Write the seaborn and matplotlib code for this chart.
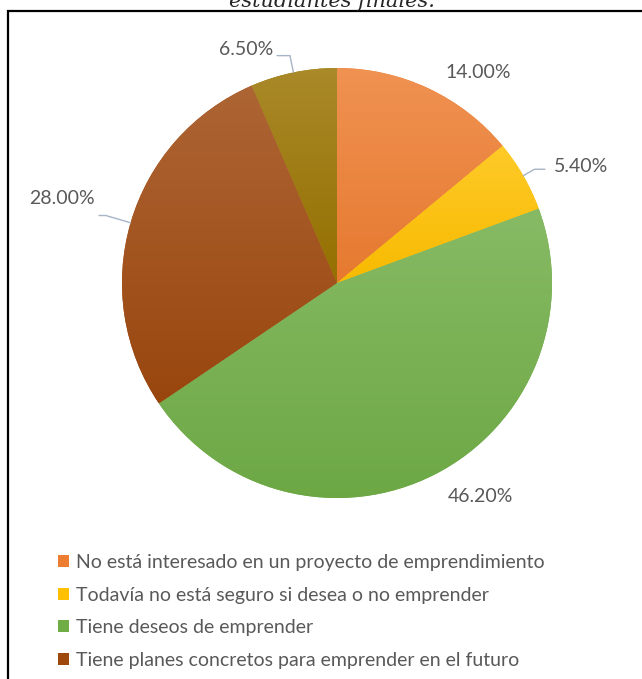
import numpy as np
import seaborn as sns
import matplotlib.pyplot as plt
from matplotlib.colors import LinearSegmentedColormap, to_rgb
from matplotlib.patches import Rectangle

# datos del grafico
categorias = ["No está interesado en un proyecto de emprendimiento",
              "Todavía no está seguro si desea o no emprender",
              "Tiene deseos de emprender",
              "Tiene planes concretos para emprender en el futuro",
              "Ya cuenta con un emprendimiento"]
porcentajes = [14.00, 5.40, 46.20, 28.00, 6.50]
etiquetas = ["14.00%", "5.40%", "46.20%", "28.00%", "6.50%"]
colores = ["#ED7D31", "#FFC000", "#70AD47", "#9E480E", "#997300"]

sns.set_theme(style="white")
plt.rcParams['font.family'] = ['Lato', 'DejaVu Sans']
gris = "#595959"

fig = plt.figure(figsize=(6.42, 6.79), dpi=100)
W, H = 642, 679
cx, cy, r = 337, 283, 215
ax = fig.add_axes([(cx - r) / W, (H - cy - r) / H, 2 * r / W, 2 * r / H])

wedges, _ = ax.pie(porcentajes, colors=colores, startangle=90, counterclock=False,
                   wedgeprops=dict(linewidth=0))

# relleno degradado tipo Excel (mas claro arriba)
for w, c in zip(wedges, colores):
    base = np.array(to_rgb(c))
    claro = base + (1 - base) * 0.16
    oscuro = base * 0.97
    cmap = LinearSegmentedColormap.from_list("g", [claro, oscuro])
    ext = w.get_path().get_extents()
    grad = np.linspace(0, 1, 256)[:, None]
    im = ax.imshow(grad, extent=[ext.x0, ext.x1, ext.y0, ext.y1], origin="upper",
                   cmap=cmap, aspect="auto", zorder=w.get_zorder() + 0.1)
    im.set_clip_path(w)

ax.set_xlim(-1, 1)
ax.set_ylim(-1, 1)
ax.set_aspect("equal")
ax.axis("off")

# etiquetas de datos (posicion en unidades del radio)
pos_etiq = [(0.656, 0.981), (1.135, 0.544), (0.665, -0.995), (-1.279, 0.395), (-0.423, 1.084)]
for (x, y), t in zip(pos_etiq, etiquetas):
    ax.text(x, y, t, ha="center", va="center", fontsize=14, color=gris, clip_on=False)

# lineas guia
total = sum(porcentajes)
ang = 90.0
medios = []
for p in porcentajes:
    a = p / total * 360
    medios.append(np.deg2rad(ang - a / 2))
    ang -= a
guias = {1: (1.06, 0.967), 3: (1.12, -1.107), 4: (1.08, -0.279)}
for i, (re, xf) in guias.items():
    m = medios[i]
    p0 = (np.cos(m), np.sin(m))
    p1 = (re * np.cos(m), re * np.sin(m))
    p2 = (xf, p1[1])
    ax.plot([p0[0], p1[0], p2[0]], [p0[1], p1[1], p2[1]], color="#A6B4C4", lw=1,
            clip_on=False, zorder=5)

# la leyenda del recorte solo deja ver las cuatro primeras entradas
leg = fig.legend(wedges[:4], categorias[:4], loc="upper left", bbox_to_anchor=(58 / W, 1 - 554 / H),
                 frameon=False, fontsize=14, handlelength=0.55, handleheight=0.55,
                 handletextpad=0.35, labelspacing=0.8, borderpad=0, borderaxespad=0)
for t in leg.get_texts():
    t.set_color(gris)

# titulo recortado y marco
fig.text(332 / W, 1 - 7 / H, "estudiantes finales.", ha="center", va="baseline",
         fontsize=15, style="italic", family="DejaVu Serif", color="#262626")
fig.patches.append(Rectangle((8 / W, -0.05), 1.2, 1.05 - 11 / H, transform=fig.transFigure,
                             fill=False, lw=1.6, edgecolor="black"))

plt.savefig("out.png", dpi=100)
